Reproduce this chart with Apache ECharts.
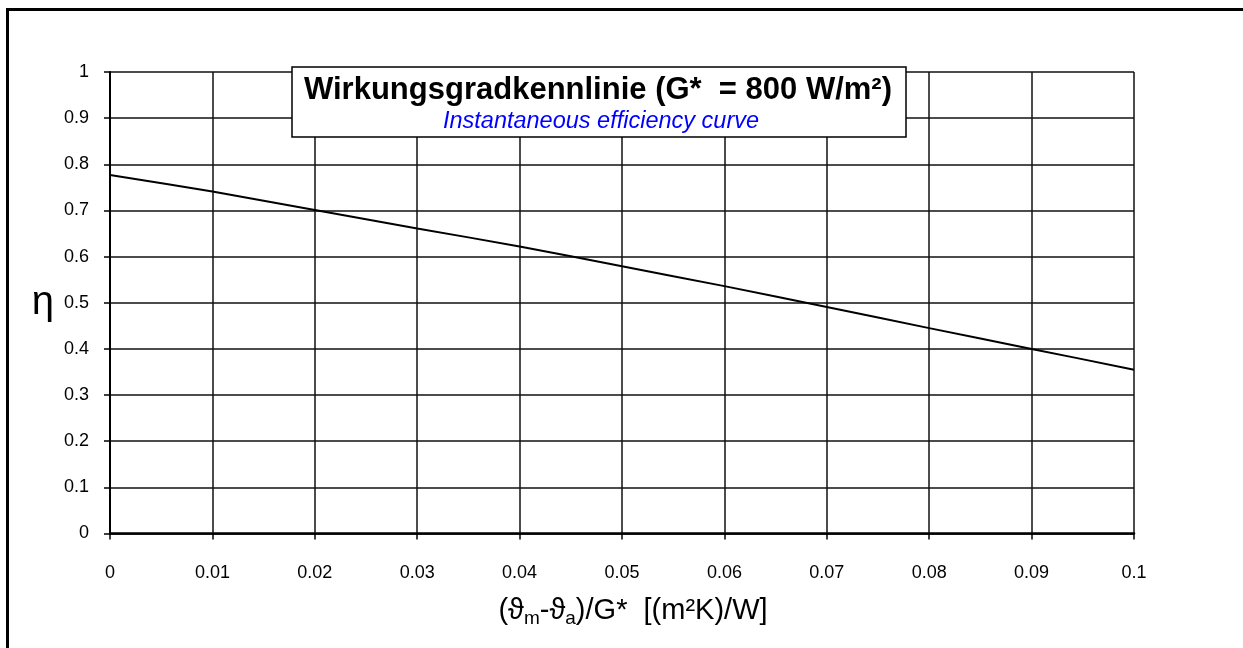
<!DOCTYPE html>
<html><head><meta charset="utf-8">
<script src="https://cdn.jsdelivr.net/npm/echarts@6/dist/echarts.min.js"></script>
<style>html,body{margin:0;padding:0;background:#fff}#c{width:1243px;height:648px}</style>
</head><body><div id="c"></div>
<script>
// x values: (theta_m - theta_a)/G*  [(m²K)/W]
const xValues = [0, 0.01, 0.02, 0.03, 0.04, 0.05, 0.06, 0.07, 0.08, 0.09, 0.1];
// efficiency eta
const etaValues = [0.777, 0.741, 0.701, 0.661, 0.622, 0.579, 0.536, 0.491, 0.445, 0.400, 0.355];
const xTickLabels = ['0', '0.01', '0.02', '0.03', '0.04', '0.05', '0.06', '0.07', '0.08', '0.09', '0.1'];
const yTickLabels = ['0', '0.1', '0.2', '0.3', '0.4', '0.5', '0.6', '0.7', '0.8', '0.9', '1'];
const titleText = 'Wirkungsgradkennlinie (G*  = 800 W/m²)';
const subtitleText = 'Instantaneous efficiency curve';
const yAxisName = 'η';

const FONT = '"Liberation Sans", Arial, sans-serif';
const chart = echarts.init(document.getElementById('c'), null, {renderer: 'canvas'});
const seriesData = xValues.map((x, i) => [x, etaValues[i]]);

chart.setOption({
  animation: false,
  backgroundColor: '#fff',
  grid: {left: 110, top: 72, right: 109, bottom: 114.5, containLabel: false},
  xAxis: {
    type: 'value', min: 0, max: 0.1, interval: 0.01,
    axisLine: {show: true, onZero: false, lineStyle: {color: '#000', width: 2.5}},
    axisTick: {show: true, inside: false, length: 6, lineStyle: {color: '#000', width: 1.5}},
    splitLine: {show: true, lineStyle: {color: '#111', width: 1.5}},
    axisLabel: {
      color: '#000', fontFamily: FONT, fontSize: 18, margin: 31,
      formatter: v => xTickLabels[Math.round(v / 0.01)]
    },
    name: '{n|(ϑ}{s|m}{n|-ϑ}{s|a}{n|)/G*  [(m²K)/W]}',
    nameLocation: 'middle', nameGap: 60,
    nameTextStyle: {
      padding: [0, 0, 0, 22],
      rich: {
        n: {fontFamily: FONT, fontSize: 29, color: '#000'},
        s: {fontFamily: FONT, fontSize: 19, color: '#000', padding: [16, 0, 0, 0]}
      }
    }
  },
  yAxis: {
    type: 'value', min: 0, max: 1, interval: 0.1,
    axisLine: {show: true, lineStyle: {color: '#000', width: 2}},
    axisTick: {show: true, inside: false, length: 6, lineStyle: {color: '#000', width: 1.5}},
    splitLine: {show: true, lineStyle: {color: '#111', width: 1.5}},
    axisLabel: {
      color: '#000', fontFamily: FONT, fontSize: 18, margin: 21,
      formatter: v => yTickLabels[Math.round(v / 0.1)]
    },
    name: yAxisName, nameLocation: 'middle', nameRotate: 0, nameGap: 56,
    nameTextStyle: {fontFamily: FONT, fontSize: 40, color: '#000', padding: [0, 0, 10, 0]}
  },
  series: [{
    type: 'line', data: seriesData, showSymbol: false, symbol: 'none',
    smooth: 0.3,
    lineStyle: {color: '#000', width: 2}, z: 5
  }],
  graphic: [
    {type: 'rect', silent: true, z: 100,
      shape: {x: 7.5, y: 9.5, width: 1400, height: 800},
      style: {fill: 'none', stroke: '#000', lineWidth: 3}},
    {type: 'rect', silent: true, z: 100,
      shape: {x: 292, y: 67, width: 614, height: 70},
      style: {fill: '#fff', stroke: '#000', lineWidth: 1.5}},
    {type: 'text', silent: true, z: 101, x: 598, y: 90,
      style: {text: titleText, font: 'bold 31px ' + FONT, fill: '#000', align: 'center', verticalAlign: 'middle'}},
    {type: 'text', silent: true, z: 101, x: 601, y: 121,
      style: {text: subtitleText, font: 'italic 23.5px ' + FONT, fill: '#0000ff', align: 'center', verticalAlign: 'middle'}}
  ]
});
</script>
</body></html>
